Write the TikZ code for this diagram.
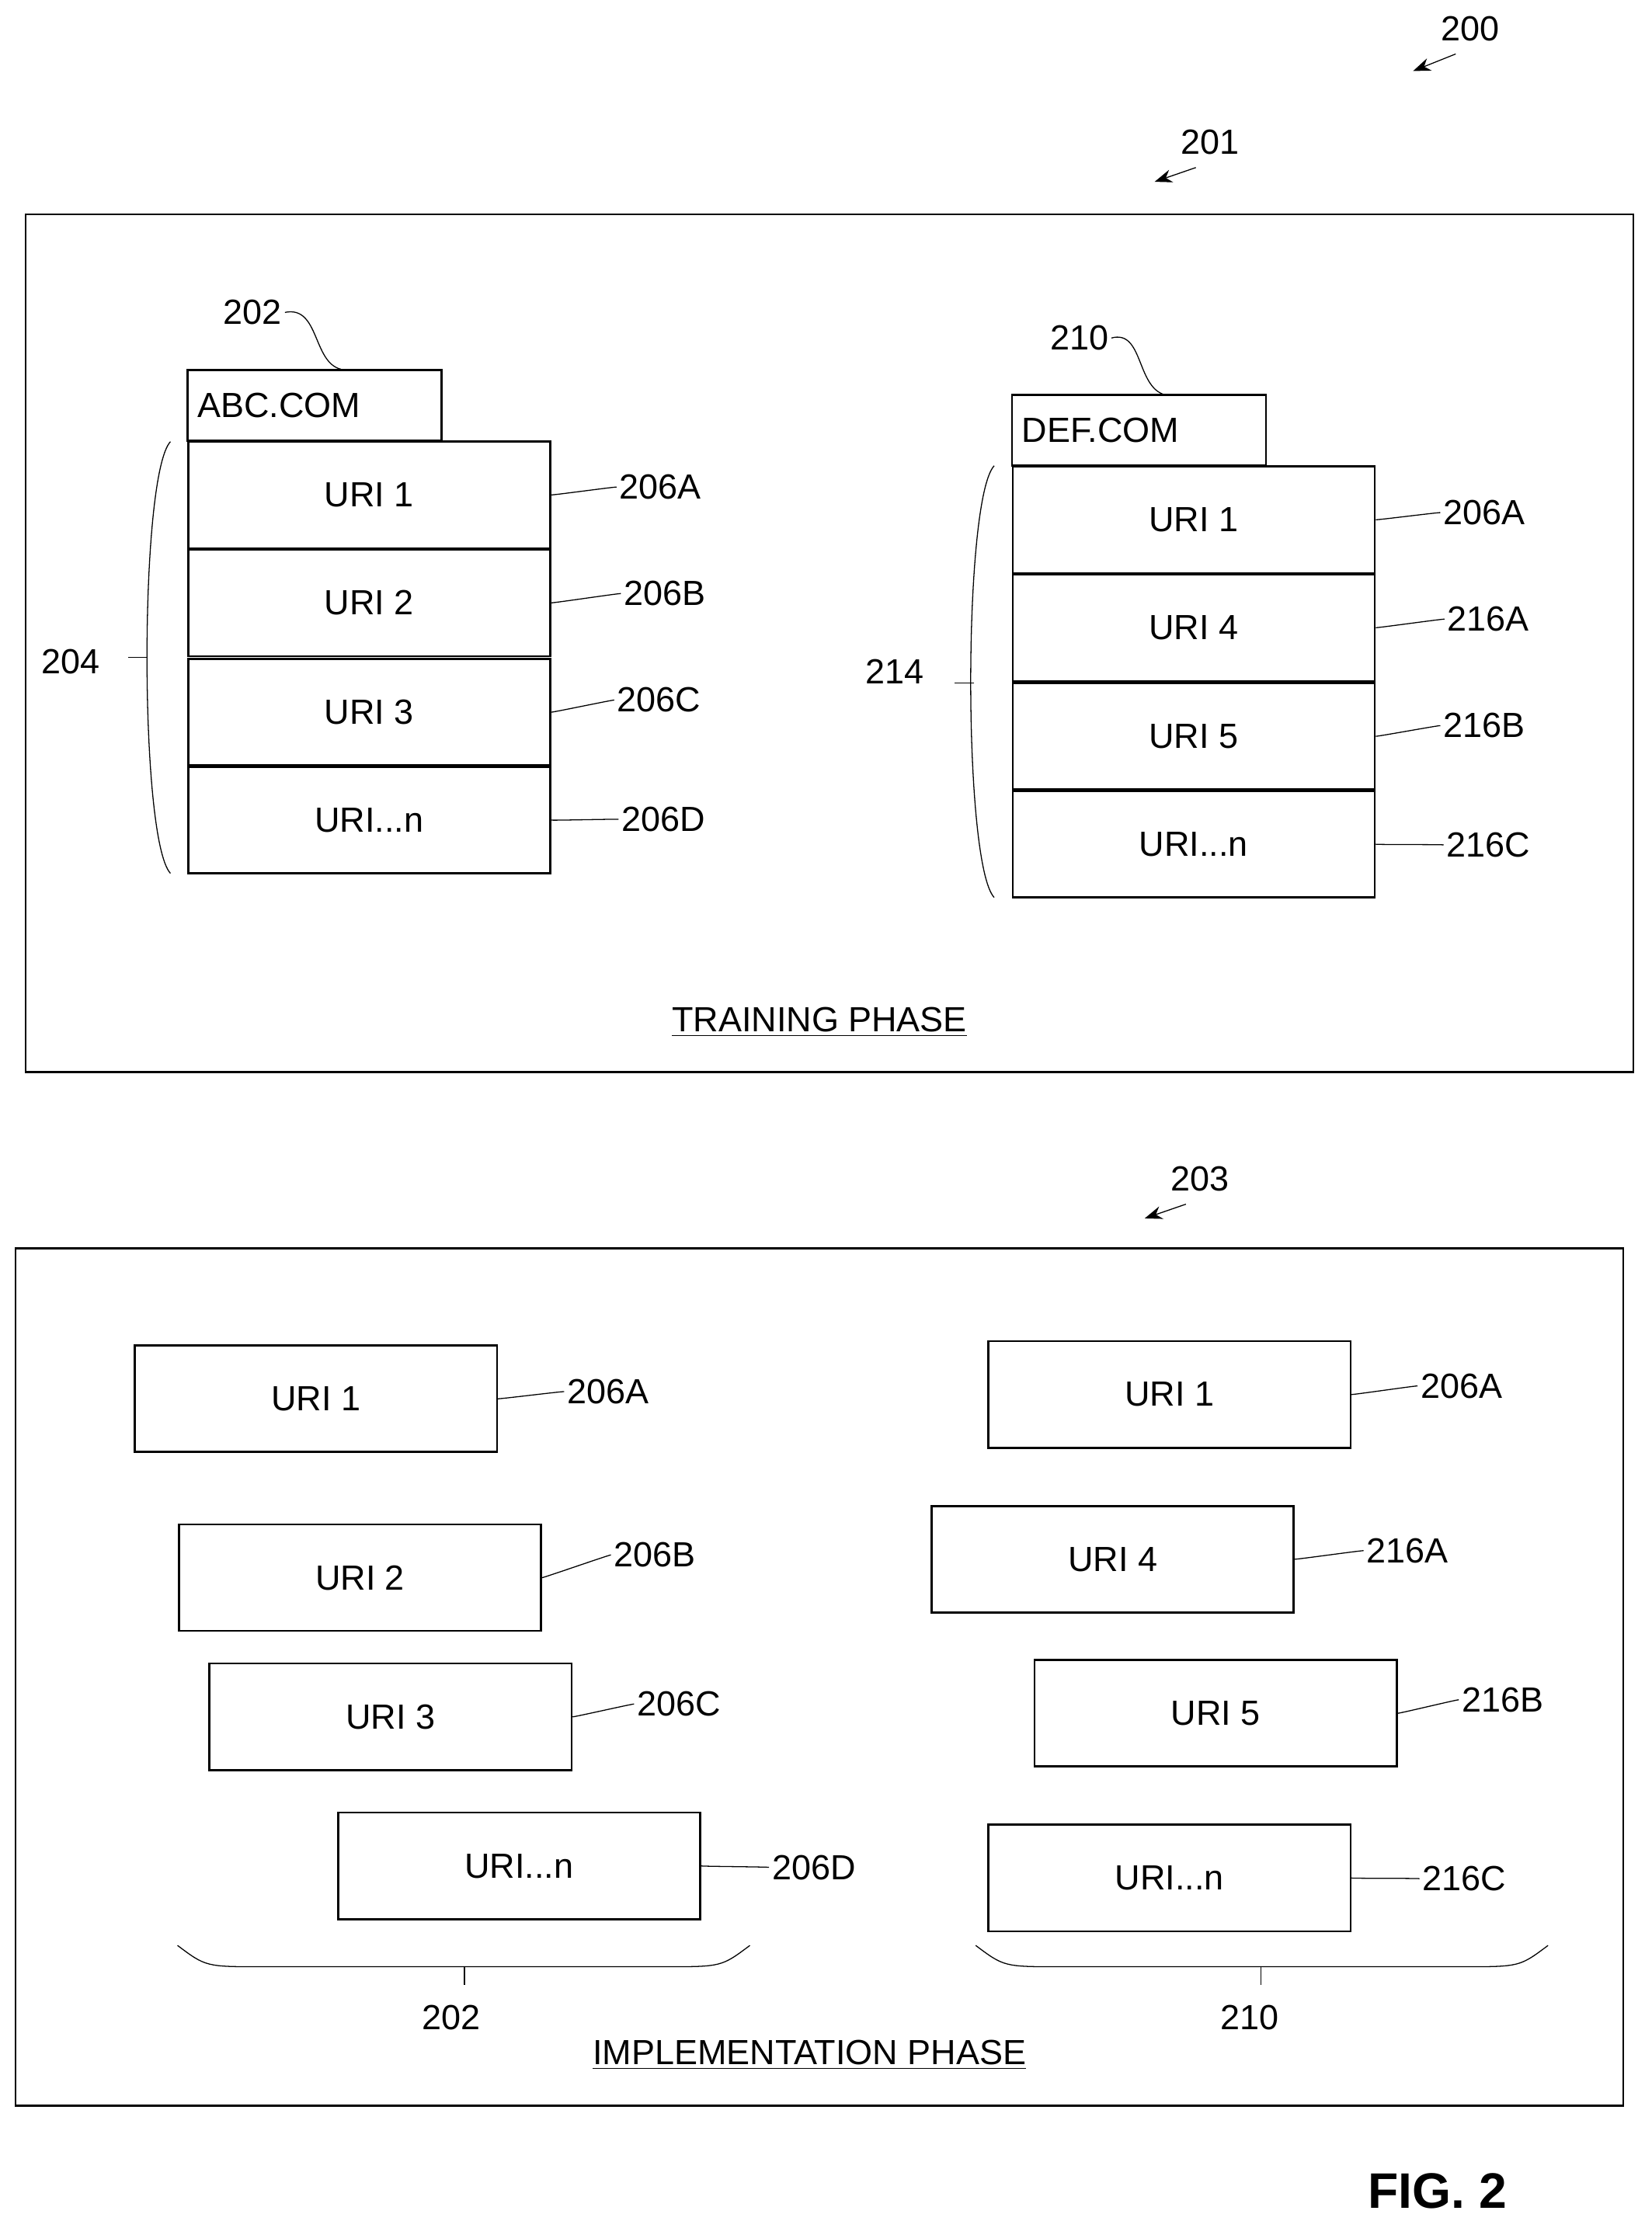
\documentclass[tikz,border=0pt]{standalone}
\usepackage{fontspec}
\setmainfont{Liberation Sans}
\usetikzlibrary{positioning,arrows.meta}
\tikzset{
  uri/.style={draw, thick, minimum width=5.1cm, minimum height=1.5cm, inner sep=0pt, font=\fontsize{14}{16}\selectfont},
  tab/.style={draw, thick, minimum width=3.58cm, minimum height=1.0cm, inner sep=0pt, text width=3.3cm, align=left, font=\fontsize{14}{16}\selectfont},
  ref/.style={font=\fontsize{14}{16}\selectfont, inner sep=1pt},
  lead/.style={thin},
  phase/.style={draw, thick},
}
\newcommand{\leadto}[2]{\draw[lead] (#1.east) .. controls +(0.4,0.35) and +(-0.4,-0.35) .. (#2.west);}
\begin{document}
\begin{tikzpicture}[x=0.02cm, y=-0.02cm]
  \useasboundingbox (0,0) rectangle (1163,1569);

  % frames
  \draw[phase] (18,151) rectangle (1150,755);
  \draw[phase] (11,879) rectangle (1143,1483);
  \node[ref] (l200) at (1035,20) {200};
  \draw[-{Stealth[length=7pt]}] (1025,38) -- (995,50);
  \node[ref] (l201) at (852,100) {201};
  \draw[-{Stealth[length=7pt]}] (842,118) -- (813,128);
  \node[ref] (l203) at (845,830) {203};
  \draw[-{Stealth[length=7pt]}] (835,848) -- (806,858);

  % training phase, left stack
  \node[tab] (abc) at (221.5,285.5) {ABC.COM};
  \node[uri] (a1) at (260,348.5) {URI 1};
  \node[uri] (a2) at (260,424.5) {URI 2};
  \node[uri] (a3) at (260,501.5) {URI 3};
  \node[uri] (a4) at (260,577.5) {URI...n};
  \node[ref] (l202) at (178,220) {202};
  \draw[lead] (l202.east) .. controls (225,215) and (220,255) .. (240,260);
  \node[ref] (la1) at (465,343) {206A};
  \node[ref] (la2) at (468,418) {206B};
  \node[ref] (la3) at (464,493) {206C};
  \node[ref] (la4) at (467,577) {206D};
  \leadto{a1}{la1} \leadto{a2}{la2} \leadto{a3}{la3} \leadto{a4}{la4}
  \draw (120,311) .. controls (98,335) and (98,591) .. (120,615);
  \draw (104,463) -- (90,463);
  \node[ref] (l204) at (50,466) {204};

  % training phase, right stack
  \node[tab] (def) at (802,303) {DEF.COM};
  \node[uri] (d1) at (840.5,366) {URI 1};
  \node[uri] (d2) at (840.5,442) {URI 4};
  \node[uri] (d3) at (840.5,518.5) {URI 5};
  \node[uri] (d4) at (840.5,594.5) {URI...n};
  \node[ref] (l210) at (760,238) {210};
  \draw[lead] (l210.east) .. controls (805,232) and (800,272) .. (820,278);
  \node[ref] (ld1) at (1045,361) {206A};
  \node[ref] (ld2) at (1048,436) {216A};
  \node[ref] (ld3) at (1045,511) {216B};
  \node[ref] (ld4) at (1048,595) {216C};
  \leadto{d1}{ld1} \leadto{d2}{ld2} \leadto{d3}{ld3} \leadto{d4}{ld4}
  \draw (700,328) .. controls (678,352) and (678,608) .. (700,632);
  \draw (686,481) -- (672,481);
  \node[ref] (l214) at (630,473) {214};
  \node[ref] (train) at (577,720) {\underline{TRAINING PHASE}};

  % implementation phase, left
  \node[uri] (b1) at (222.5,985) {URI 1};
  \node[uri] (b2) at (253.5,1111) {URI 2};
  \node[uri] (b3) at (275,1209) {URI 3};
  \node[uri] (b4) at (365.5,1314) {URI...n};
  \node[ref] (lb1) at (428,980) {206A};
  \node[ref] (lb2) at (461,1095) {206B};
  \node[ref] (lb3) at (478,1200) {206C};
  \node[ref] (lb4) at (573,1315) {206D};
  \leadto{b1}{lb1} \leadto{b2}{lb2} \leadto{b3}{lb3} \leadto{b4}{lb4}
  \draw (125,1370) .. controls (145,1385) .. (185,1385) -- (468,1385) .. controls (508,1385) .. (528,1370);
  \draw (327,1385) -- (327,1398);
  \node[ref] (l202b) at (318,1421) {202};

  % implementation phase, right
  \node[uri] (e1) at (823.5,982) {URI 1};
  \node[uri] (e2) at (783.5,1098) {URI 4};
  \node[uri] (e3) at (856,1206.5) {URI 5};
  \node[uri] (e4) at (823.5,1322.5) {URI...n};
  \node[ref] (le1) at (1029,976) {206A};
  \node[ref] (le2) at (991,1092) {216A};
  \node[ref] (le3) at (1058,1197) {216B};
  \node[ref] (le4) at (1031,1323) {216C};
  \leadto{e1}{le1} \leadto{e2}{le2} \leadto{e3}{le3} \leadto{e4}{le4}
  \draw (687,1370) .. controls (707,1385) .. (747,1385) -- (1030,1385) .. controls (1070,1385) .. (1090,1370);
  \draw (888,1385) -- (888,1398);
  \node[ref] (l210b) at (880,1421) {210};
  \node[ref] (impl) at (570,1447) {\underline{IMPLEMENTATION PHASE}};

  \node[font=\fontsize{20}{24}\selectfont\bfseries] (fig) at (1012,1543) {FIG. 2};
\end{tikzpicture}
\end{document}
